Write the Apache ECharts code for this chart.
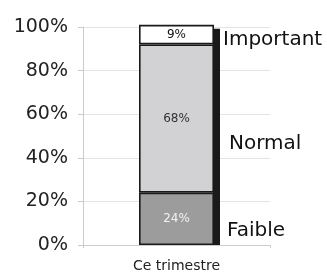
<!DOCTYPE html>
<html>
<head>
<meta charset="utf-8">
<script src="https://cdn.jsdelivr.net/npm/echarts@6/dist/echarts.min.js"></script>
<style>
  html, body { margin: 0; padding: 0; background: #fff; }
  #chart { width: 327px; height: 273px; }
</style>
</head>
<body>
<div id="chart"></div>
<script>
// data
const categories = ['Ce trimestre'];
const levels = ['Faible', 'Normal', 'Important'];
const values = [24, 68, 9];
const fills = ['#9c9c9c', '#d2d2d4', '#ffffff'];
const insideColors = ['#f2f2f2', '#333333', '#111111'];
const nameOffsets = [[4, 12], [6, 25], [0, 5]];
const yTicks = [0, 20, 40, 60, 80, 100];

const BAR_W = 75;
const total = values.reduce((a, b) => a + b, 0);

const chart = echarts.init(document.getElementById('chart'));

const series = [];
// dark stripe on the right side of the stack
series.push({
  type: 'custom',
  z: 1,
  silent: true,
  data: [[0, total]],
  renderItem: function (params, api) {
    const top = api.coord([api.value(0), api.value(1)]);
    const bottom = api.coord([api.value(0), 0]);
    return {
      type: 'rect',
      shape: {
        x: top[0] + BAR_W / 2 - 1,
        y: top[1] + 4,
        width: 7,
        height: bottom[1] - top[1] - 4
      },
      style: { fill: '#1a1a1a' }
    };
  }
});
// stacked segments with inside percentage
for (let i = 0; i < levels.length; i++) {
  series.push({
    name: levels[i],
    type: 'bar',
    stack: 'level',
    barWidth: BAR_W,
    clip: false,
    z: 2,
    data: [values[i]],
    itemStyle: {
      color: fills[i],
      borderColor: '#1a1a1a',
      borderWidth: 1.6
    },
    label: {
      show: true,
      position: 'inside',
      formatter: '{c}%',
      fontFamily: 'DejaVu Sans',
      fontSize: 12,
      color: insideColors[i]
    },
    emphasis: { disabled: true }
  });
}
// same stack again, invisible, to put level names at the right
for (let i = 0; i < levels.length; i++) {
  series.push({
    name: levels[i] + '_name',
    type: 'bar',
    stack: 'names',
    barWidth: BAR_W,
    barGap: '-100%',
    clip: false,
    z: 3,
    data: [values[i]],
    itemStyle: { color: 'rgba(0,0,0,0)' },
    label: {
      show: true,
      position: 'right',
      distance: 9,
      offset: nameOffsets[i],
      formatter: levels[i],
      fontFamily: 'DejaVu Sans',
      fontSize: 20,
      color: '#111'
    },
    emphasis: { disabled: true }
  });
}

chart.setOption({
  animation: false,
  grid: { left: 83, right: 57, top: 27, bottom: 27 },
  xAxis: {
    type: 'category',
    data: categories,
    axisLine: { lineStyle: { color: '#cccccc' } },
    axisTick: { show: true, length: 3, lineStyle: { color: '#cccccc' } },
    axisLabel: {
      margin: 14,
      fontFamily: 'DejaVu Sans',
      fontSize: 14,
      color: '#222'
    }
  },
  yAxis: {
    type: 'value',
    min: yTicks[0],
    max: yTicks[yTicks.length - 1],
    interval: 20,
    axisLine: { show: true, lineStyle: { color: '#cccccc' } },
    axisTick: { show: true, length: 5, lineStyle: { color: '#cccccc' } },
    splitLine: { lineStyle: { color: '#e4e4e4' } },
    axisLabel: {
      margin: 15,
      formatter: '{value}%',
      fontFamily: 'DejaVu Sans',
      fontSize: 19,
      color: '#222'
    }
  },
  series: series
});
</script>
</body>
</html>
